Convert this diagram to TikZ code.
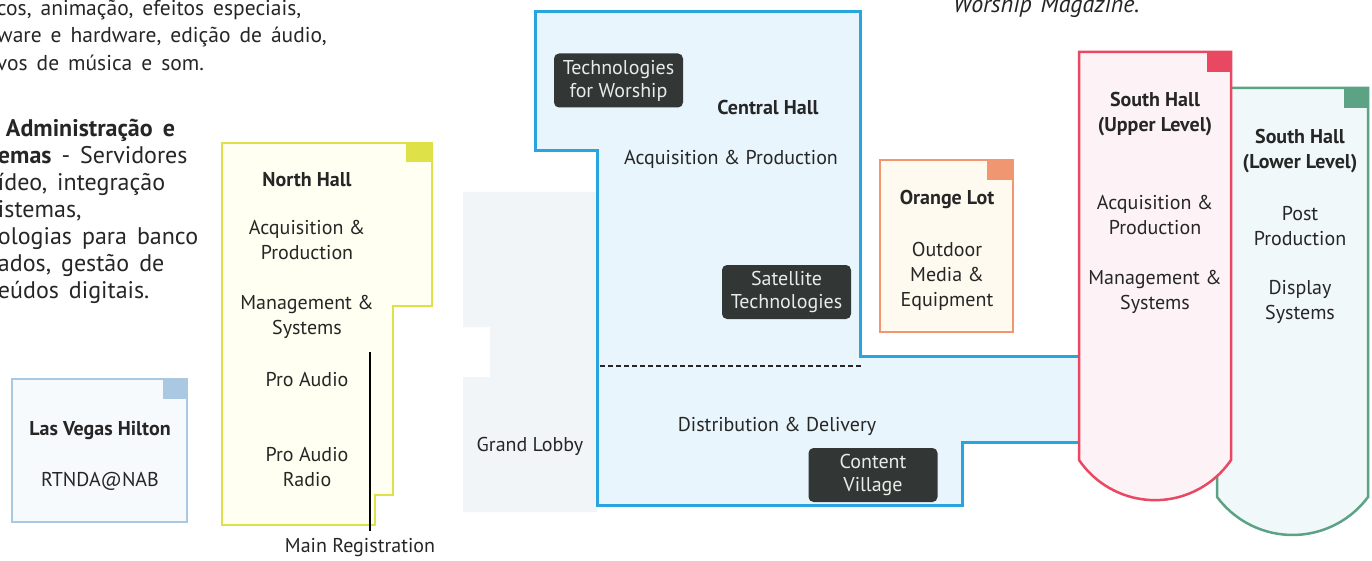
\documentclass[tikz,border=0pt]{standalone}
\usepackage{fontspec}
\setmainfont{PT Sans}
\usetikzlibrary{positioning}

\definecolor{ink}{RGB}{38,38,38}
\definecolor{centralblue}{RGB}{40,165,222}
\definecolor{centralfill}{RGB}{232,245,252}
\definecolor{lobbygray}{RGB}{242,245,247}
\definecolor{northyellow}{RGB}{222,226,72}
\definecolor{northfill}{RGB}{255,255,242}
\definecolor{hiltonblue}{RGB}{170,200,226}
\definecolor{hiltonfill}{RGB}{246,250,253}
\definecolor{orangelot}{RGB}{240,150,112}
\definecolor{orangefill}{RGB}{255,250,240}
\definecolor{southred}{RGB}{232,72,98}
\definecolor{southredfill}{RGB}{253,243,246}
\definecolor{southgreen}{RGB}{92,162,132}
\definecolor{southgreenfill}{RGB}{240,248,249}
\definecolor{tagdark}{RGB}{50,55,53}
\definecolor{tagtext}{RGB}{232,236,232}

\newcommand\widewords[1]{\spaceskip=#1\relax}

\tikzset{
  hallwall/.style={draw=#1, line width=2.5pt, line join=miter},
  cornertab/.style={fill=#1},
  hallname/.style={font=\fontsize{20}{25}\selectfont\bfseries, text=ink, align=center},
  hallitem/.style={font=\fontsize{20}{25}\selectfont, text=ink, align=center},
  tagbox/.style={fill=tagdark, text=tagtext, rounded corners=5pt, minimum width=129pt,
    minimum height=54pt, align=center, font=\fontsize{20}{23}\selectfont},
  paratext/.style={font={\fontsize{24}{27}\selectfont\widewords{10pt}}, text=ink, align=left},
}

\begin{document}
\begin{tikzpicture}[x=1pt,y=-1pt,inner sep=0pt,outer sep=0pt]
  \useasboundingbox (0,0) rectangle (1372,561);
  \clip (0,0) rectangle (1372,561);
  \fill[white] (0,0) rectangle (1372,561);

  % running text of the page
  \node[paratext, anchor=north west, font={\fontsize{21.5}{27.5}\selectfont\widewords{9pt}}] (para_top) at (-3,0)
  {cos, animação, efeitos especiais,\\
   ware e hardware, edição de áudio,\\
   vos de música e som.};
  \node[paratext, anchor=north west] (para_admin) at (-2,119.5)
  {\hspace*{8pt}\textbf{Administração e}\\
   \textbf{emas} - Servidores\\
   ídeo, integração\\
   istemas,\\
   ologias para banco\\
   ados, gestão de\\
   eúdos digitais.};
  \node[paratext, anchor=base west, font={\fontsize{24}{27}\selectfont\itshape\widewords{9pt}}] (mag) at (953,12.5)
  {Worship Magazine.};

  % grand lobby backdrop
  \fill[lobbygray] (463,192) -- (597,192) -- (597,512) -- (463,512) -- (463,377)
    -- (490,377) -- (490,327) -- (463,327) -- cycle;

  % central hall
  \draw[hallwall=centralblue, fill=centralfill, line width=3pt]
    (535,12) -- (860,12) -- (860,356) -- (1079,356) -- (1079,442) -- (962,442)
    -- (962,505) -- (597,505) -- (597,151) -- (535,151) -- cycle;
  \coordinate (split_w) at (600,366);
  \coordinate (split_e) at (863,366);
  \draw[black!85, line width=2pt, dash pattern=on 5pt off 3pt] (split_w) -- (split_e);

  % north hall
  \draw[hallwall=northyellow, fill=northfill]
    (222,143) -- (432,143) -- (432,306) -- (393,306) -- (393,495) -- (375,495)
    -- (375,525) -- (222,525) -- cycle;
  \fill[cornertab=northyellow] (406,143) rectangle (432,162);

  % las vegas hilton
  \draw[hallwall=hiltonblue, fill=hiltonfill, line width=2pt] (12,379) rectangle (187,522);
  \fill[cornertab=hiltonblue] (163,379) rectangle (187,399);

  % orange lot
  \draw[hallwall=orangelot, fill=orangefill] (880,160) rectangle (1013,332);
  \fill[cornertab=orangelot] (987,160) rectangle (1013,180);

  % south hall, lower level behind the upper one
  \draw[hallwall=southgreen, fill=southgreenfill]
    (1217,88) -- (1368,88) -- (1368,497)
    arc[start angle=36.6, end angle=143.4, radius=94] -- cycle;
  \fill[cornertab=southgreen] (1344,88) rectangle (1368,108);
  \draw[hallwall=southred, fill=southredfill]
    (1079,52) -- (1231,52) -- (1231,460)
    arc[start angle=34.3, end angle=145.7, radius=92] -- cycle;
  \fill[cornertab=southred] (1207,52) rectangle (1231,72);

  % north hall labels
  \node[hallname, anchor=north] (north_name) at (307,172) {North Hall};
  \node[hallitem, anchor=north] (north_acq) at (307,220) {Acquisition \&\\Production};
  \node[hallitem, anchor=north] (north_mgmt) at (307,295) {Management \&\\Systems};
  \node[hallitem, anchor=north] (north_audio) at (307,372) {Pro Audio};
  \node[hallitem, anchor=north] (north_radio) at (307,447) {Pro Audio\\Radio};

  % main registration marker
  \coordinate (reg_top) at (370,352);
  \node[hallitem, anchor=north] (main_reg) at (360,538) {Main Registration};
  \draw[black, line width=2.2pt, shorten >=7pt] (reg_top) -- (reg_top |- main_reg.north);

  % hilton labels
  \node[hallname, anchor=north] (hilton_name) at (100,421) {Las Vegas Hilton};
  \node[hallitem, anchor=north] (hilton_rtnda) at (100,472) {RTNDA@NAB};

  % central hall labels
  \node[tagbox] (tag_worship) at (618.5,80.5) {Technologies\\for Worship};
  \node[hallname, anchor=north] (central_name) at (768,100) {Central Hall};
  \node[hallitem, anchor=north] (central_acq) at (731,150) {Acquisition \& Production};
  \node[tagbox] (tag_satellite) at (786.5,292) {Satellite\\Technologies};
  \node[hallitem, anchor=north] (central_dist) at (777,417) {Distribution \& Delivery};
  \node[tagbox] (tag_content) at (873,475) {Content\\Village};
  \node[hallitem, anchor=north] (lobby_name) at (530,437) {Grand Lobby};

  % orange lot labels
  \node[hallname, anchor=north] (orange_name) at (947,190) {Orange Lot};
  \node[hallitem, anchor=north] (orange_media) at (947,242) {Outdoor\\Media \&\\Equipment};

  % south hall labels
  \node[hallname, anchor=north] (upper_name) at (1155,92) {South Hall\\(Upper Level)};
  \node[hallitem, anchor=north] (upper_acq) at (1155,195) {Acquisition \&\\Production};
  \node[hallitem, anchor=north] (upper_mgmt) at (1155,270) {Management \&\\Systems};
  \node[hallname, anchor=north] (lower_name) at (1300,129) {South Hall\\(Lower Level)};
  \node[hallitem, anchor=north] (lower_post) at (1300,206) {Post\\Production};
  \node[hallitem, anchor=north] (lower_display) at (1300,280) {Display\\Systems};
\end{tikzpicture}
\end{document}
